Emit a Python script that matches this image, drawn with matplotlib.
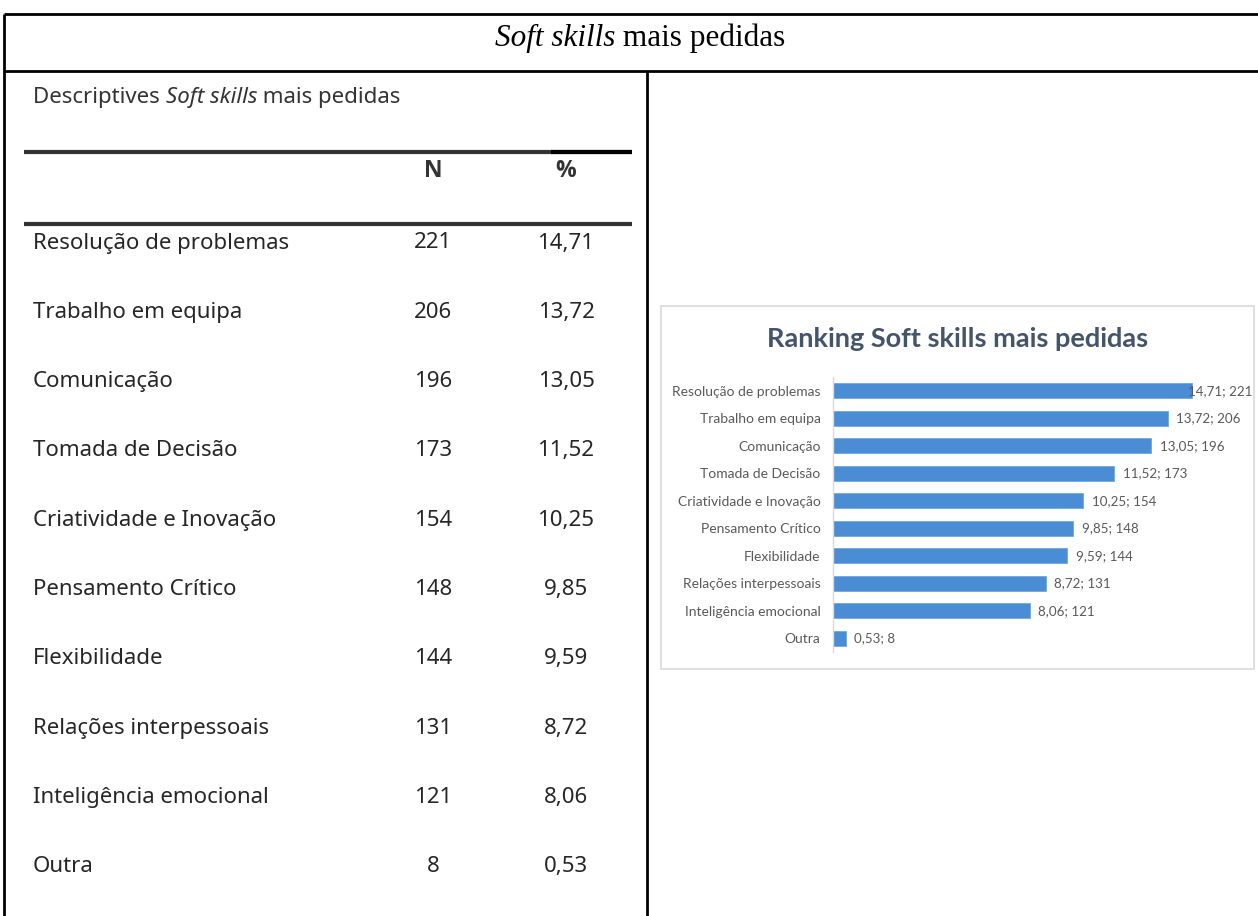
import matplotlib
matplotlib.use("Agg")
import matplotlib.pyplot as plt
from matplotlib.patches import Rectangle

# data
skills = ["Resolução de problemas", "Trabalho em equipa", "Comunicação",
          "Tomada de Decisão", "Criatividade e Inovação", "Pensamento Crítico",
          "Flexibilidade", "Relações interpessoais", "Inteligência emocional", "Outra"]
counts = [221, 206, 196, 173, 154, 148, 144, 131, 121, 8]
pcts = [14.71, 13.72, 13.05, 11.52, 10.25, 9.85, 9.59, 8.72, 8.06, 0.53]
col_headers = ["N", "%"]


def fmt(v):
    return f"{v:.2f}".replace(".", ",")


W, H = 1258, 916
fig = plt.figure(figsize=(W / 100, H / 100), dpi=100)
fig.patch.set_facecolor("white")

# overlay axes in pixel units (y down)
bg = fig.add_axes([0, 0, 1, 1])
bg.set_xlim(0, W)
bg.set_ylim(H, 0)
bg.axis("off")

renderer = fig.canvas.get_renderer()


def draw_runs(x, y, runs, ha="left", **kw):
    # runs: list of (text, style); drawn one after the other
    widths = []
    for s, st in runs:
        t = bg.text(0, 0, s, style=st, **kw)
        widths.append(t.get_window_extent(renderer).width)
        t.remove()
    if ha == "center":
        x -= sum(widths) / 2
    for (s, st), w in zip(runs, widths):
        bg.text(x, y, s, style=st, ha="left", va="center", **kw)
        x += w


# frame
lk = dict(color="black", lw=2, solid_capstyle="butt")
bg.plot([4, W], [14, 14], **lk)
bg.plot([4, W], [71, 71], **lk)
bg.plot([4, 4], [14, H], **lk)
bg.plot([647, 647], [71, H], **lk)

# title
draw_runs(640, 38, [("Soft skills", "italic"), (" mais pedidas", "normal")],
          ha="center", family="Liberation Serif", fontsize=22.5, color="black")

# left table
tc = "#262626"
draw_runs(33, 97, [("Descriptives ", "normal"), ("Soft skills", "italic"),
                   (" mais pedidas", "normal")],
          family="Noto Sans", fontsize=16, color="#333333")
bg.plot([24, 632], [152, 152], color="#333333", lw=3, solid_capstyle="butt")
bg.plot([551, 632], [152, 152], color="black", lw=3, solid_capstyle="butt")
bg.plot([24, 632], [224, 224], color="#333333", lw=3, solid_capstyle="butt")
col_x = [433, 566]
for cx, hd in zip(col_x, col_headers):
    bg.text(cx, 171, hd, ha="center", va="center", family="Open Sans",
            fontsize=16.5, fontweight="bold", color="#333333")

row_y0, row_dy = 243, 69.3
for i, (s, n, p) in enumerate(zip(skills, counts, pcts)):
    y = row_y0 + i * row_dy
    bg.text(33, y, s, ha="left", va="center", family="Noto Sans", fontsize=16, color=tc)
    bg.text(col_x[0], y, str(n), ha="center", va="center", family="Noto Sans",
            fontsize=16, color=tc)
    bg.text(col_x[1], y, fmt(p), ha="center", va="center", family="Noto Sans",
            fontsize=16, color=tc)

# embedded bar chart box
bg.add_patch(Rectangle((661, 306), 593, 363, facecolor="white",
                       edgecolor="#D9D9D9", lw=1.2))
bg.text(958, 339, "Ranking Soft skills mais pedidas", ha="center", va="center",
        family="Lato", fontsize=19.5, fontweight="bold", color="#44546A")

ax_l, ax_t, ax_w, ax_h = 833, 377, 400, 275
ax = fig.add_axes([ax_l / W, 1 - (ax_t + ax_h) / H, ax_w / W, ax_h / H])
ax.patch.set_alpha(0)
ypos = list(range(len(skills)))
ax.barh(ypos, pcts, height=0.55, color="#4A8DD4", edgecolor="#6FA8E0", lw=0.6)
ax.set_xlim(0, 16.39)
ax.set_ylim(len(skills) - 0.5, -0.5)
ax.set_yticks(ypos)
ax.set_yticklabels(skills, family="Lato", fontsize=10, color="#595959")
ax.tick_params(axis="y", length=0, pad=9)
ax.set_xticks([])
for sp in ["top", "right", "bottom"]:
    ax.spines[sp].set_visible(False)
ax.spines["left"].set_color("#D9D9D9")
ax.spines["left"].set_linewidth(1)

# data labels, kept inside the chart box like the spreadsheet does
box_right = 1252
for yy, p, n in zip(ypos, pcts, counts):
    t = ax.text(p + 0.35, yy, f"{fmt(p)}; {n}", ha="left", va="center",
                family="Lato", fontsize=9.6, color="#595959")
    ext = t.get_window_extent(renderer)
    if ext.x1 > box_right:
        dx = (ext.x1 - box_right) * (16.39 / ax_w)
        t.set_x(p + 0.35 - dx)

fig.savefig("out.png", dpi=100)
